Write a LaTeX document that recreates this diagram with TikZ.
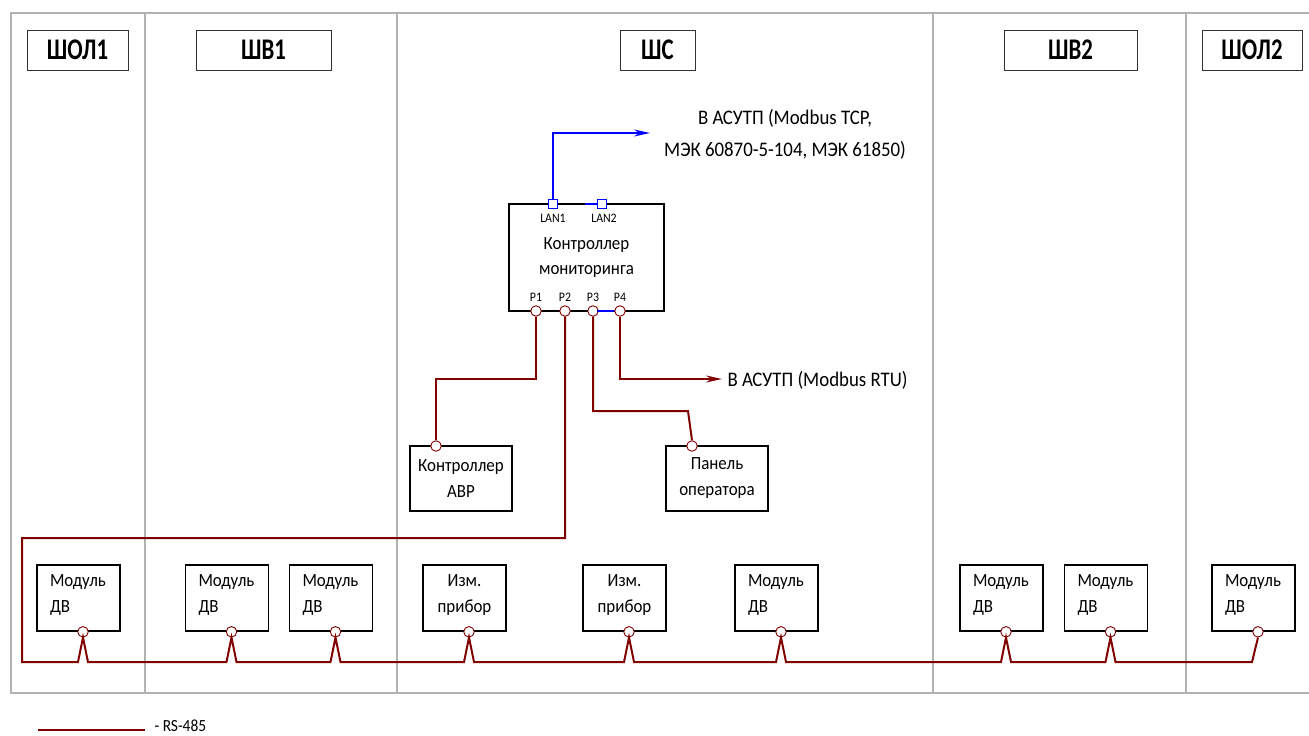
\documentclass[tikz,border=0pt]{standalone}
\usepackage{fontspec}
\setmainfont[FakeStretch=0.91]{Carlito}
\newfontfamily\headfont[FakeStretch=0.76]{Carlito}
\usetikzlibrary{arrows.meta,calc}
\definecolor{rs}{RGB}{128,0,0}
\definecolor{lanblue}{RGB}{0,0,255}

\begin{document}
\begin{tikzpicture}[x=1pt, y=-1pt,
  zone/.style={draw=black!30, line width=1.2pt},
  title/.style={draw=black!80, line width=1pt, minimum height=40pt, inner sep=0pt,
                font=\headfont\fontsize{30}{32}\selectfont\bfseries},
  unit/.style={draw, line width=1.6pt, minimum width=83pt, minimum height=66pt,
               inner xsep=13pt, text width=57pt, align=left, font=\fontsize{18.6}{26}\selectfont,
               execute at end node=\vspace*{6pt}},
  dev/.style={unit, align=center},
  port/.style={circle, draw=rs, fill=white, line width=0.9pt, minimum size=10.5pt, inner sep=0pt},
  lan/.style={rectangle, draw=lanblue, fill=white, line width=1.3pt, minimum size=9pt, inner sep=0pt},
  rsline/.style={draw=rs, line width=2pt},
  lanline/.style={draw=lanblue, line width=2pt},
  note/.style={font=\fontsize{20.7}{32}\selectfont, align=center},
  pin/.style={font=\fontsize{13}{14}\selectfont, inner sep=1pt},
  tip/.style={-{Stealth[length=16pt, width=7pt]}},
]
\useasboundingbox (0,0) rectangle (1309,736);

% Шкафы
\draw[zone] (1309,13) -- (11,13) -- (11,693) -- (1309,693);
\foreach \x in {145,397,933,1186}
  \draw[zone] (\x,13) -- (\x,693);

\node[title, minimum width=101pt] (shol1) at (77.5,50)   {ШОЛ1};
\node[title, minimum width=135pt] (shv1)  at (263.5,50)  {ШВ1};
\node[title, minimum width=75pt]  (shs)   at (657.5,50)  {ШС};
\node[title, minimum width=133pt] (shv2)  at (1070.5,50) {ШВ2};
\node[title, minimum width=100pt] (shol2) at (1252,50)   {ШОЛ2};

% Контроллер мониторинга
\node[draw, line width=1.6pt, minimum width=155pt, minimum height=107pt, align=center,
      font=\fontsize{18.6}{25}\selectfont] (ctl) at (586.5,257.5) {Контроллер\\мониторинга};
\node[lan] (lan1) at (553,204) {};
\node[lan] (lan2) at (602,204) {};
\node[pin] (lan1t) at (553,218) {LAN1};
\node[pin] (lan2t) at (604,218) {LAN2};
\foreach \n/\x in {1/536,2/565,3/593,4/620} {
  \node[port] (cp\n) at (\x,311) {};
  \node[pin] (cp\n t) at (\x,297) {P\n};
}

% Устройства
\node[draw, line width=1.6pt, minimum width=102pt, minimum height=65pt, align=center,
      font=\fontsize{18.6}{26}\selectfont] (avr) at (461,478.5) {Контроллер\\АВР};
\node[draw, line width=1.6pt, minimum width=102pt, minimum height=65pt, align=center,
      font=\fontsize{18.6}{26}\selectfont] (pan) at (717,478.5) {Панель\\оператора};
\node[port] (avrp) at (436,446) {};
\node[port] (panp) at (692,446) {};

\foreach \n/\x/\s/\t in {1/78.5/unit/{Модуль\\ДВ}, 2/227/unit/{Модуль\\ДВ}, 3/331/unit/{Модуль\\ДВ},
    4/464.5/dev/{Изм.\\прибор}, 5/624.5/dev/{Изм.\\прибор}, 6/776.5/unit/{Модуль\\ДВ},
    7/1001.5/unit/{Модуль\\ДВ}, 8/1106/unit/{Модуль\\ДВ}, 9/1253.5/unit/{Модуль\\ДВ}} {
  \node[\s] (m\n) at (\x,598) {\t};
  \node[port] (p\n) at ($(m\n.south)+(4.5,0)$) {};
}

% Связи
\coordinate (tcp) at (650,133);
\draw[lanline, tip] (lan1.north) |- (tcp);
\draw[lanline] (585,204) -- (lan2.west);
\draw[lanline] (597,311) -- (cp4.west);
\node[note] (tcpt) at (785,134) {В АСУТП (Modbus TCP,\\МЭК 60870-5-104, МЭК 61850)};

\coordinate (k1) at (436,379);
\draw[rsline] (cp1.south) |- (k1) -- (avrp.north);
\coordinate (k3) at (688,411);
\draw[rsline] (cp3.south) |- (k3) -- (panp.north);
\coordinate (rtu) at (722,379);
\draw[rsline, tip] (cp4.south) |- (rtu);
\node[note, anchor=west] (rtut) at (724,380) {В АСУТП (Modbus RTU)};

\coordinate (bend) at (22,538);
\coordinate (busL) at (22,662);
\draw[rsline] (cp2.south) |- (bend) -- (busL)
  foreach \n in {1,...,8} {
    -- ($(p\n.south |- busL)+(-5,0)$) -- (p\n.south) -- ($(p\n.south |- busL)+(5,0)$)
  }
  -- ($(p9.south |- busL)+(-6,0)$) -- (p9.south);

% Легенда
\coordinate (lg1) at (38,730);
\coordinate (lg2) at (145,730);
\draw[rsline] (lg1) -- (lg2);
\node[anchor=west, font=\fontsize{17}{17}\selectfont] (lgt) at (151,726) {- RS-485};

\end{tikzpicture}
\end{document}
